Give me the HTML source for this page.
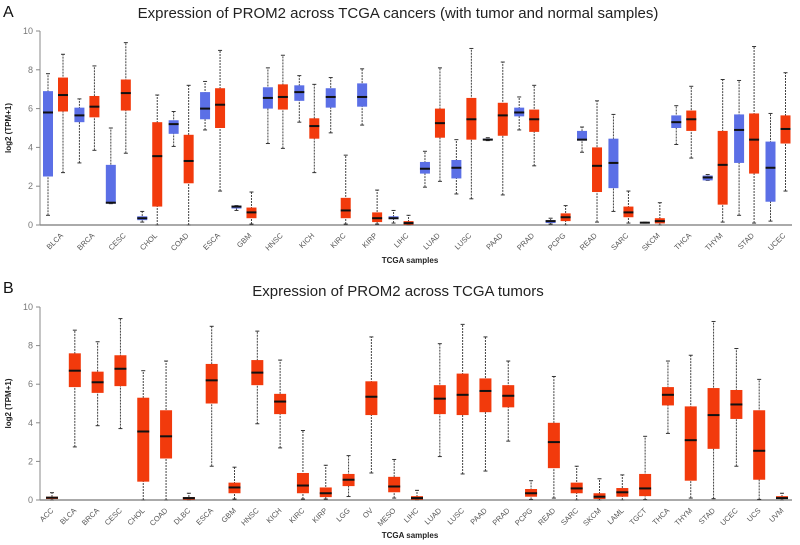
<!DOCTYPE html>
<html><head><meta charset="utf-8"><style>
body{margin:0;background:#fff;}
svg{display:block;font-family:"Liberation Sans",sans-serif;}
</style></head><body>
<svg id="chart" width="800" height="545" viewBox="0 0 800 545">
<text x="3" y="17" font-size="16" fill="#111">A</text>
<text x="398" y="18" font-size="15" fill="#222" text-anchor="middle">Expression of PROM2 across TCGA cancers (with tumor and normal samples)</text>
<text x="3" y="293" font-size="16" fill="#111">B</text>
<text x="398" y="296" font-size="15" fill="#222" text-anchor="middle">Expression of PROM2 across TCGA tumors</text>
<g id="pa"></g>
<g id="pb"></g>
</svg>
<script>
// Panel A data: [min, q1, median, q3, max]
const catsA = ["BLCA","BRCA","CESC","CHOL","COAD","ESCA","GBM","HNSC","KICH","KIRC","KIRP","LIHC","LUAD","LUSC","PAAD","PRAD","PCPG","READ","SARC","SKCM","THCA","THYM","STAD","UCEC"];
const normalA = [
[0.5,2.5,5.8,6.9,7.8],[3.2,5.3,5.65,6.05,6.5],[1.1,1.1,1.15,3.1,5.0],[0.15,0.25,0.35,0.45,0.7],[4.05,4.7,5.2,5.4,5.85],
[4.9,5.45,6.0,6.85,7.4],[0.75,0.85,0.95,1.0,1.0],[4.2,6.0,6.55,7.1,8.1],[5.3,6.4,6.85,7.2,7.7],[4.75,6.05,6.6,7.05,7.6],
[5.15,6.1,6.6,7.3,8.05],[0.1,0.3,0.35,0.45,0.75],[1.95,2.65,2.9,3.25,3.8],[1.6,2.4,2.95,3.35,4.4],[4.35,4.4,4.4,4.45,4.5],
[4.9,5.6,5.8,6.05,6.6],[0.05,0.1,0.2,0.25,0.35],[3.75,4.35,4.4,4.85,5.05],[0.7,1.9,3.2,4.45,5.7],[0.1,0.11,0.12,0.13,0.14],
[4.15,5.0,5.3,5.65,6.15],[2.3,2.3,2.45,2.55,2.6],[0.5,3.2,4.9,5.7,7.45],[0.2,1.2,2.95,4.3,5.75]];
const tumorA = [
[2.7,5.85,6.7,7.6,8.8],[3.85,5.55,6.1,6.65,8.2],[3.7,5.9,6.8,7.5,9.4],[0,0.95,3.55,5.3,6.7],[0,2.15,3.3,4.65,7.2],
[1.75,5.0,6.2,7.05,9.0],[0.05,0.35,0.65,0.9,1.7],[3.95,5.95,6.6,7.25,8.75],[2.7,4.45,5.1,5.5,7.25],[0.05,0.35,0.75,1.4,3.6],
[0.05,0.15,0.35,0.65,1.8],[0,0.02,0.1,0.2,0.5],[2.25,4.5,5.25,6.0,8.1],[1.35,4.4,5.45,6.55,9.1],[1.55,4.6,5.65,6.3,8.4],
[3.05,4.8,5.45,5.95,7.2],[0,0.2,0.4,0.6,1.0],[0.15,1.7,3.05,4.0,6.4],[0.1,0.4,0.65,0.95,1.75],[0,0.08,0.2,0.35,1.15],
[3.45,4.85,5.45,5.9,7.15],[0.15,1.05,3.1,4.85,7.5],[0.1,2.65,4.4,5.75,9.2],[1.75,4.2,4.95,5.65,7.85]];
// Panel B data
const catsB = ["ACC","BLCA","BRCA","CESC","CHOL","COAD","DLBC","ESCA","GBM","HNSC","KICH","KIRC","KIRP","LGG","OV","MESO","LIHC","LUAD","LUSC","PAAD","PRAD","PCPG","READ","SARC","SKCM","LAML","TGCT","THCA","THYM","STAD","UCEC","UCS","UVM"];
const tumorB = [
[0,0.05,0.12,0.17,0.38],[2.75,5.85,6.7,7.6,8.8],[3.85,5.55,6.1,6.65,8.2],[3.7,5.9,6.8,7.5,9.4],[0,0.95,3.55,5.3,6.7],
[0,2.15,3.3,4.65,7.2],[0,0.02,0.1,0.15,0.35],[1.75,5.0,6.2,7.05,9.0],[0.05,0.35,0.65,0.9,1.7],[3.95,5.95,6.6,7.25,8.75],
[2.7,4.45,5.1,5.5,7.25],[0.05,0.35,0.75,1.4,3.6],[0.05,0.15,0.35,0.65,1.8],[0.18,0.72,1.05,1.35,2.3],[1.4,4.4,5.35,6.15,8.45],
[0.1,0.4,0.7,1.2,2.1],[0,0.02,0.1,0.2,0.5],[2.25,4.45,5.25,5.95,8.1],[1.35,4.4,5.45,6.55,9.1],[1.5,4.55,5.65,6.3,8.45],
[3.05,4.8,5.4,5.95,7.2],[0.03,0.17,0.35,0.57,1.0],[0.1,1.65,3.0,4.0,6.4],[0,0.35,0.6,0.9,1.75],[0,0.05,0.17,0.35,1.1],
[0,0.17,0.4,0.62,1.3],[0.02,0.2,0.6,1.35,3.3],[3.45,4.9,5.45,5.85,7.2],[0.1,1.0,3.1,4.85,7.5],[0.07,2.65,4.4,5.8,9.25],
[1.75,4.2,4.95,5.7,7.85],[0.03,1.05,2.55,4.65,6.25],[0,0.05,0.1,0.2,0.35]];
const yTicks = [0,2,4,6,8,10];

const NS="http://www.w3.org/2000/svg";
function mk(parent,tag,attrs){const e=document.createElementNS(NS,tag);for(const k in attrs)e.setAttribute(k,attrs[k]);parent.appendChild(e);return e;}

function drawPanel(g,cfg){
  const y=v=>cfg.y0-(v/10)*(cfg.y0-cfg.y10);
  const ax=mk(g,'line',{x1:40,y1:cfg.y0,x2:792,y2:cfg.y0,stroke:'#555','stroke-width':1});
  
  
  const ay=mk(g,'line',{x1:40,y1:cfg.y0,x2:40,y2:cfg.y10,stroke:'#888','stroke-width':1});
  
  
  yTicks.forEach(t=>{
    mk(g,'line',{x1:36,y1:y(t),x2:40,y2:y(t),stroke:'#888'});
    const tl=mk(g,'text',{x:33,y:y(t)+3,'font-size':9,fill:'#777','text-anchor':'end'});
    tl.textContent=t;
    
    
  });
  const yt=mk(g,'text',{x:0,y:0,'font-size':8,'font-weight':'bold',fill:'#222','text-anchor':'middle',transform:`translate(11,${(cfg.y0+cfg.y10)/2}) rotate(-90)`});
  yt.textContent='log2 (TPM+1)';
  
  
  const xt=mk(g,'text',{x:410,y:cfg.xt,'font-size':8,'font-weight':'bold',fill:'#222','text-anchor':'middle'});
  xt.textContent='TCGA samples';
  
  
  const n=cfg.cats.length;
  const step=(cfg.xLast-cfg.xFirst)/(n-1);
  cfg.cats.forEach((c,i)=>{
    const cx=cfg.xFirst+i*step;
    cfg.series.forEach(s=>{
      const d=s.data[i]; const bx=cx+s.off;
      const bg=mk(g,'g',{});
      
      
      mk(bg,'line',{x1:bx,y1:y(d[0]),x2:bx,y2:y(d[4]),stroke:'#444','stroke-width':1,'stroke-dasharray':'2,1'});
      mk(bg,'line',{x1:bx-2,y1:y(d[0]),x2:bx+2,y2:y(d[0]),stroke:'#333','stroke-width':1});
      mk(bg,'line',{x1:bx-2,y1:y(d[4]),x2:bx+2,y2:y(d[4]),stroke:'#333','stroke-width':1});
      const h=Math.max(y(d[1])-y(d[3]),0.8);
      mk(bg,'rect',{x:bx-cfg.bw/2,y:y(d[3]),width:cfg.bw,height:h,fill:s.color});
      mk(bg,'line',{x1:bx-cfg.bw/2,y1:y(d[2]),x2:bx+cfg.bw/2,y2:y(d[2]),stroke:'#111','stroke-width':2});
    });
    const lx=cx+cfg.lblOff, ly=cfg.y0+11;
    const lb=mk(g,'text',{x:lx,y:ly,'font-size':7.5,fill:'#555','text-anchor':'end',transform:`rotate(-45 ${lx} ${ly})`});
    lb.textContent=c;
    
    
  });
}
drawPanel(document.getElementById('pa'),{y0:225,y10:31,xt:263,cats:catsA,xFirst:55.5,xLast:778,bw:10,lblOff:8,
  series:[{name:'normal',data:normalA,off:-7.5,color:'#5b6fe6'},{name:'tumor',data:tumorA,off:7.5,color:'#f23a0c'}]});
drawPanel(document.getElementById('pb'),{y0:500,y10:307,xt:538,cats:catsB,xFirst:52,xLast:782,bw:12,lblOff:2,
  series:[{name:'tumor',data:tumorB,off:0,color:'#f23a0c'}]});
</script>
</body></html>
